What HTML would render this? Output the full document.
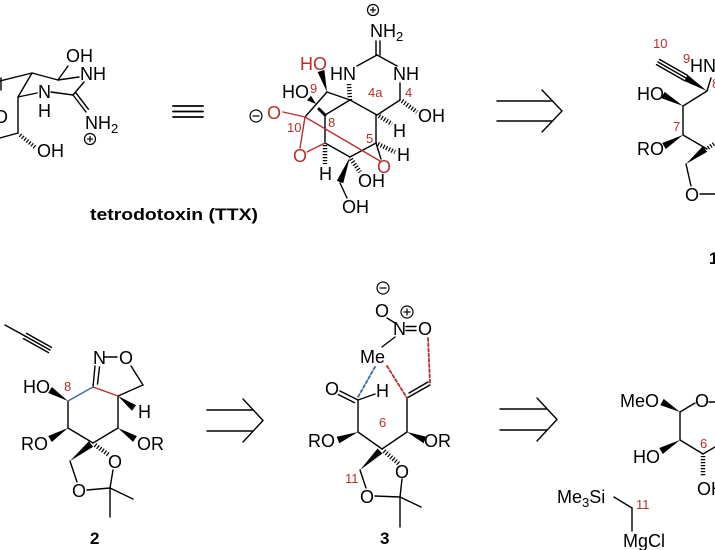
<!DOCTYPE html>
<html>
<head>
<meta charset="utf-8">
<style>
html,body{margin:0;padding:0;background:#fff;}
svg{display:block;}
text{font-family:"Liberation Sans",Arial,sans-serif;}
</style>
</head>
<body>
<svg width="715" height="550" viewBox="0 0 715 550" xmlns="http://www.w3.org/2000/svg">
<rect width="715" height="550" fill="#fff"/>
<g stroke="#000" stroke-width="1.4" stroke-linecap="round" fill="none">
  <!-- left partial TTX -->
  <line x1="0" y1="81" x2="32" y2="73"/>
  <line x1="32" y1="73" x2="58" y2="80"/>
  <line x1="58" y1="80" x2="68" y2="66"/>
  <line x1="58" y1="80" x2="79" y2="77"/>
  <line x1="84" y1="82" x2="73" y2="95"/>
  <line x1="73" y1="95" x2="51" y2="92"/>
  <line x1="73" y1="95" x2="86" y2="112"/>
  <line x1="75.4" y1="92.2" x2="88.4" y2="109.2"/>
  <line x1="32" y1="73" x2="18" y2="97"/>
  <line x1="18" y1="97" x2="37" y2="93"/>
  <line x1="1" y1="78" x2="1" y2="90"/>
  <line x1="18" y1="97" x2="18" y2="133"/>
  <line x1="18" y1="133" x2="0" y2="138"/>
  <line x1="20" y1="135" x2="36" y2="148" stroke-width="4" stroke-dasharray="1.2 1.8" stroke-linecap="butt"/>

  <!-- equivalence -->
  <line x1="173" y1="106" x2="203" y2="106" stroke-width="1.8"/>
  <line x1="173" y1="111.5" x2="203" y2="111.5" stroke-width="1.8"/>
  <line x1="173" y1="117" x2="203" y2="117" stroke-width="1.8"/>

  <!-- main TTX black bonds -->
  <line x1="376" y1="41" x2="376" y2="55"/>
  <line x1="380" y1="41" x2="380" y2="55"/>
  <line x1="377" y1="55" x2="357" y2="66"/>
  <line x1="377" y1="55" x2="397" y2="66"/>
  <line x1="349" y1="84" x2="350" y2="100" stroke-width="4.5" stroke-dasharray="1.2 1.8" stroke-linecap="butt"/>
  <line x1="400" y1="83" x2="400" y2="100"/>
  <line x1="402" y1="101" x2="417" y2="112" stroke-width="4.5" stroke-dasharray="1.2 1.8" stroke-linecap="butt"/>
  <line x1="400" y1="100" x2="377" y2="115"/>
  <line x1="350" y1="100" x2="377" y2="115"/>
  <line x1="379" y1="116" x2="392" y2="124" stroke-width="4.5" stroke-dasharray="1.2 1.8" stroke-linecap="butt"/>
  <line x1="376" y1="115" x2="376" y2="143"/>
  <line x1="378" y1="144" x2="395" y2="152" stroke-width="4.5" stroke-dasharray="1.2 1.8" stroke-linecap="butt"/>
  <line x1="376" y1="143" x2="381" y2="159"/>
  <line x1="327" y1="92" x2="350" y2="100"/>
  <line x1="327" y1="92" x2="305" y2="117"/>
  <line x1="319" y1="109" x2="325" y2="115" stroke-width="3"/>
  <line x1="325" y1="115" x2="350" y2="100"/>
  <line x1="325" y1="115" x2="325" y2="143"/>
  <line x1="325" y1="145" x2="325" y2="164" stroke-width="4.5" stroke-dasharray="1.2 1.8" stroke-linecap="butt"/>
  <line x1="325" y1="143" x2="350" y2="157"/>
  <line x1="350" y1="157" x2="376" y2="143"/>
  <line x1="340" y1="183" x2="347" y2="198"/>
  <line x1="351" y1="159" x2="360" y2="172" stroke-width="4.5" stroke-dasharray="1.2 1.8" stroke-linecap="butt"/>

  <!-- arrow top -->
  <line x1="497" y1="101" x2="552.5" y2="101"/>
  <line x1="497" y1="121" x2="552.5" y2="121"/>
  <polyline points="542,90 562,111 542,132"/>

  <!-- compound 1 (top right) -->
  <line x1="656.5" y1="64.6" x2="684.5" y2="80.6"/>
  <line x1="658" y1="62" x2="686" y2="78"/>
  <line x1="659.5" y1="59.4" x2="687.5" y2="75.4"/>
  <line x1="707" y1="91" x2="711" y2="78"/>
  <line x1="683" y1="106" x2="707" y2="91"/>
  <line x1="683" y1="106" x2="683" y2="135"/>
  <line x1="683" y1="135" x2="707" y2="149"/>
  <line x1="686" y1="164" x2="691" y2="186"/>
  <line x1="700" y1="194" x2="715" y2="194"/>
  <line x1="708" y1="148" x2="715" y2="143" stroke-width="4" stroke-dasharray="1.2 1.8" stroke-linecap="butt"/>

  <!-- compound 2 -->
  <line x1="5" y1="325" x2="25" y2="336"/>
  <line x1="23.5" y1="338.6" x2="48.5" y2="352.6"/>
  <line x1="25" y1="336" x2="50" y2="350"/>
  <line x1="26.5" y1="333.4" x2="51.5" y2="347.4"/>
  <line x1="104" y1="357" x2="117" y2="357"/>
  <line x1="95" y1="366" x2="93" y2="387"/>
  <line x1="99.5" y1="367" x2="97.5" y2="384"/>
  <line x1="131" y1="366" x2="143" y2="385"/>
  <line x1="143" y1="385" x2="118" y2="396"/>
  <line x1="118" y1="396" x2="118" y2="428"/>
  <line x1="68" y1="401" x2="68" y2="428"/>
  <line x1="68" y1="428" x2="93" y2="443"/>
  <line x1="118" y1="428" x2="93" y2="443"/>
  <line x1="70" y1="461" x2="77" y2="482"/>
  <line x1="95" y1="445" x2="109" y2="455" stroke-width="4.5" stroke-dasharray="1.2 1.8" stroke-linecap="butt"/>
  <line x1="113" y1="470" x2="110" y2="488"/>
  <line x1="87" y1="490" x2="110" y2="488"/>
  <line x1="110" y1="488" x2="133" y2="499"/>
  <line x1="110" y1="488" x2="110" y2="517"/>

  <!-- arrow bottom middle -->
  <line x1="207" y1="410" x2="253" y2="410"/>
  <line x1="207" y1="431" x2="253" y2="431"/>
  <polyline points="243,399 263,420.5 243,442"/>

  <!-- compound 3 -->
  <line x1="387" y1="318" x2="395" y2="323"/>
  <line x1="406" y1="326.5" x2="416" y2="326.5"/>
  <line x1="406" y1="330.5" x2="416" y2="330.5"/>
  <line x1="382" y1="347" x2="395" y2="337"/>
  <line x1="340" y1="391" x2="358" y2="400"/>
  <line x1="338.4" y1="394.6" x2="354.4" y2="402.6"/>
  <line x1="358" y1="400" x2="375" y2="394"/>
  <line x1="407" y1="398" x2="430" y2="385"/>
  <line x1="409" y1="393" x2="428" y2="382"/>
  <line x1="358" y1="400" x2="358" y2="432"/>
  <line x1="407" y1="398" x2="407" y2="432"/>
  <line x1="358" y1="432" x2="382" y2="449"/>
  <line x1="382" y1="449" x2="407" y2="432"/>
  <line x1="360" y1="470" x2="366" y2="488"/>
  <line x1="384" y1="451" x2="399" y2="464" stroke-width="4.5" stroke-dasharray="1.2 1.8" stroke-linecap="butt"/>
  <line x1="402" y1="479" x2="400" y2="497"/>
  <line x1="375" y1="496" x2="400" y2="497"/>
  <line x1="400" y1="497" x2="421" y2="507"/>
  <line x1="400" y1="497" x2="400" y2="527"/>

  <!-- arrow bottom right -->
  <line x1="500" y1="409" x2="547" y2="409"/>
  <line x1="500" y1="430" x2="547" y2="430"/>
  <polyline points="537,398 557,419.5 537,441"/>

  <!-- bottom right sugar -->
  <line x1="680" y1="412" x2="695" y2="403"/>
  <line x1="709" y1="402" x2="715" y2="402"/>
  <line x1="680" y1="412" x2="680" y2="440"/>
  <line x1="680" y1="440" x2="703" y2="454"/>
  <line x1="703" y1="456" x2="703" y2="477" stroke-width="4.5" stroke-dasharray="1.2 1.8" stroke-linecap="butt"/>
  <line x1="703" y1="454" x2="715" y2="447"/>
  <line x1="614" y1="497" x2="632" y2="508"/>
  <line x1="632" y1="508" x2="632" y2="531"/>
</g>

<!-- red bonds -->
<g stroke="#b5302a" stroke-width="1.4" stroke-linecap="round" fill="none">
  <line x1="283" y1="112" x2="305" y2="117"/>
  <line x1="305" y1="117" x2="300" y2="148"/>
  <line x1="307" y1="152" x2="325" y2="143"/>
  <line x1="305" y1="117" x2="380" y2="161"/>
  <line x1="93" y1="387" x2="118" y2="396"/>
  <line x1="387" y1="366" x2="407" y2="398" stroke-width="1.8" stroke-dasharray="3 2.2"/>
  <line x1="428" y1="338" x2="430" y2="383" stroke-width="1.8" stroke-dasharray="3 2.2"/>
</g>
<!-- blue bonds -->
<g stroke="#3b6aa8" stroke-width="1.4" stroke-linecap="round" fill="none">
  <line x1="68" y1="401" x2="93" y2="387"/>
  <line x1="375" y1="367" x2="358" y2="397" stroke-width="1.8" stroke-dasharray="3 2.2"/>
</g>

<!-- wedges -->
<g fill="#000" stroke="none">
  <polygon points="327,92 324.4,70 317.6,72"/>
  <polygon points="316,104 311,95.8 307,100.3"/>
  <polygon points="350,157 336.8,180.7 343.2,183.3"/>
  <polygon points="707,91 687.8,75 684.2,81"/>
  <polygon points="683,106 664.7,91.9 661.3,98.1"/>
  <polygon points="683,135 662.2,143 665.8,149"/>
  <polygon points="686,164 707.2,151.7 702.8,146.3"/>
  <polygon points="68,401 51.8,387 48.2,393"/>
  <polygon points="118,396 131.9,410.8 136.1,405.2"/>
  <polygon points="118,428 133.1,441.9 136.9,436.1"/>
  <polygon points="68,428 48.2,436 51.8,442"/>
  <polygon points="70,461 93.2,446.7 88.8,441.3"/>
  <polygon points="358,432 336.7,436.7 339.3,443.3"/>
  <polygon points="407,432 423.6,443.2 426.4,436.8"/>
  <polygon points="360,470 382.4,453.5 377.6,448.5"/>
  <polygon points="680,412 663.7,398.9 660.3,405.1"/>
  <polygon points="680,440 659.2,448 662.8,454"/>
</g>

<!-- charges -->
<g stroke="#000" stroke-width="1.2" fill="none">
  <circle cx="90" cy="139" r="5.5"/>
  <line x1="87" y1="139" x2="93" y2="139"/><line x1="90" y1="136" x2="90" y2="142"/>
  <circle cx="373" cy="10" r="5.5"/>
  <line x1="370" y1="10" x2="376" y2="10"/><line x1="373" y1="7" x2="373" y2="13"/>
  <circle cx="256" cy="116" r="6"/>
  <line x1="252.5" y1="116" x2="259.5" y2="116"/>
  <circle cx="383" cy="288" r="6"/>
  <line x1="379.5" y1="288" x2="386.5" y2="288"/>
  <circle cx="407" cy="312" r="6"/>
  <line x1="403.5" y1="312" x2="410.5" y2="312"/><line x1="407" y1="308.5" x2="407" y2="315.5"/>
</g>

<!-- black atom labels -->
<g font-size="18" fill="#000">
  <text x="66" y="62">OH</text>
  <text x="80" y="80">NH</text>
  <text x="38" y="98">N</text>
  <text x="38" y="117">H</text>
  <text x="85" y="129">NH<tspan font-size="13" dy="4">2</tspan></text>
  <text x="37" y="157">OH</text>
  <text x="-6" y="123">O</text>

  <text x="370" y="37">NH<tspan font-size="13" dy="4">2</tspan></text>
  <text x="330" y="80">HN</text>
  <text x="393" y="80">NH</text>
  <text x="282" y="98">HO</text>
  <text x="418" y="122">OH</text>
  <text x="393" y="137">H</text>
  <text x="397" y="161">H</text>
  <text x="319" y="180">H</text>
  <text x="358" y="187">OH</text>
  <text x="342" y="213">OH</text>

  <text x="690" y="72">HN</text>
  <text x="637" y="100">HO</text>
  <text x="637" y="155">RO</text>
  <text x="685" y="201">O</text>

  <text x="93" y="364">N</text>
  <text x="119" y="364">O</text>
  <text x="23" y="393">HO</text>
  <text x="138" y="418">H</text>
  <text x="21" y="450">RO</text>
  <text x="137" y="450">OR</text>
  <text x="72" y="497">O</text>
  <text x="108" y="468">O</text>

  <text x="375" y="317">O</text>
  <text x="393" y="335">N</text>
  <text x="418" y="335">O</text>
  <text x="360" y="363">Me</text>
  <text x="325" y="395">O</text>
  <text x="376" y="397">H</text>
  <text x="308" y="447">RO</text>
  <text x="424" y="447">OR</text>
  <text x="360" y="503">O</text>
  <text x="395" y="478">O</text>

  <text x="620" y="407">MeO</text>
  <text x="695" y="407">O</text>
  <text x="633" y="463">HO</text>
  <text x="697" y="495">OH</text>
  <text x="557" y="503">Me<tspan font-size="13" dy="4">3</tspan><tspan dy="-4">Si</tspan></text>
  <text x="623" y="547">MgCl</text>
</g>

<!-- red labels -->
<g font-size="18" fill="#b5302a">
  <text x="300" y="70">HO</text>
  <text x="267" y="119">O</text>
  <text x="293" y="162">O</text>
  <text x="377" y="173">O</text>
</g>
<g font-size="13" fill="#b5302a">
  <text x="310" y="93">9</text>
  <text x="368" y="97">4a</text>
  <text x="405" y="97">4</text>
  <text x="287" y="132">10</text>
  <text x="328" y="127">8</text>
  <text x="366" y="143">5</text>
  <text x="653" y="48">10</text>
  <text x="683" y="63">9</text>
  <text x="712" y="88">8</text>
  <text x="673" y="131">7</text>
  <text x="64" y="391">8</text>
  <text x="379" y="427">6</text>
  <text x="345" y="483">11</text>
  <text x="700" y="448">6</text>
  <text x="636" y="509">11</text>
</g>

<!-- compound labels -->
<g font-weight="bold" fill="#000">
  <text x="90" y="220" font-size="17" textLength="168" lengthAdjust="spacingAndGlyphs">tetrodotoxin (TTX)</text>
  <text x="90" y="544" font-size="17">2</text>
  <text x="380" y="544" font-size="17">3</text>
  <text x="709" y="264" font-size="17">1</text>
</g>
</svg>
</body>
</html>
